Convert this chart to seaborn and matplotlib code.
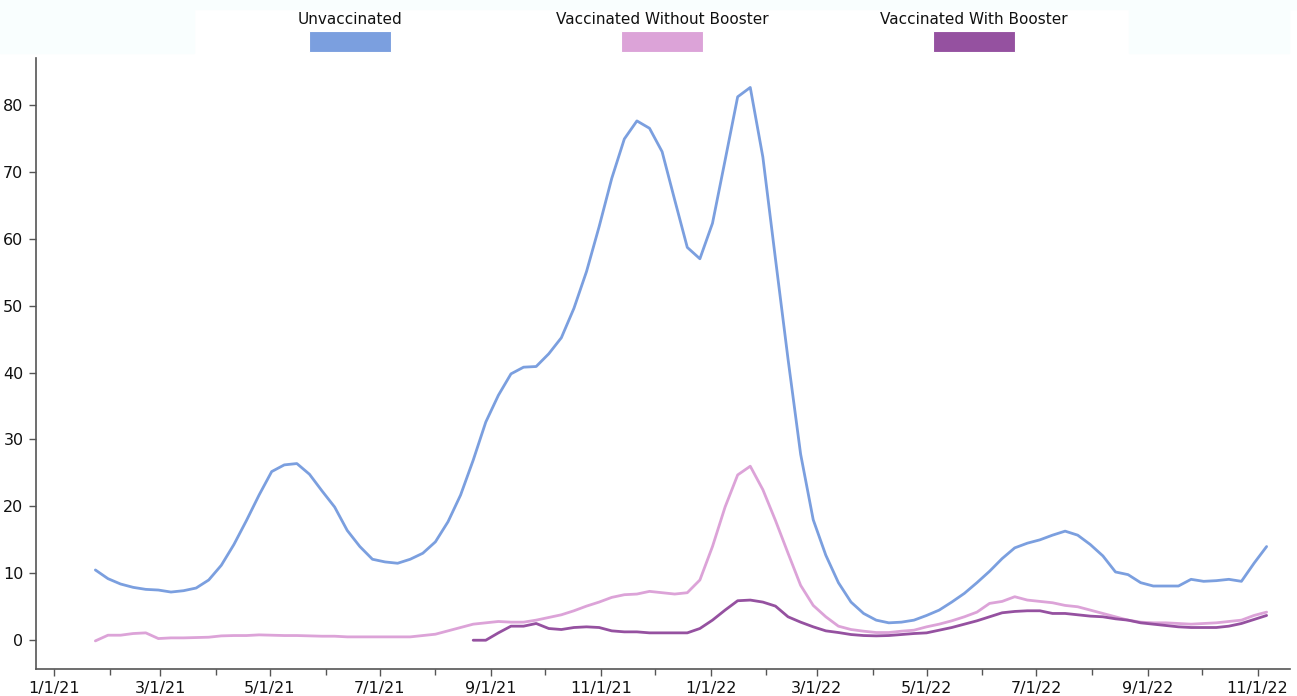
import numpy as np
import pandas as pd
import matplotlib
matplotlib.use('Agg')
import matplotlib.pyplot as plt
import matplotlib.dates as mdates
from matplotlib.patches import Rectangle
import seaborn as sns

# weekly rates, one point per week starting 2021-01-24
start_date = '2021-01-24'
n_weeks = 94

unvaccinated = [
    10.5, 9.2, 8.4, 7.9, 7.6, 7.5, 7.2, 7.4, 7.8, 9.0,
    11.2, 14.3, 17.9, 21.7, 25.2, 26.2, 26.4, 24.8, 22.3, 19.9,
    16.4, 14.0, 12.1, 11.7, 11.5, 12.1, 13.0, 14.7, 17.7, 21.7,
    26.9, 32.6, 36.6, 39.8, 40.8, 40.9, 42.8, 45.2, 49.6, 55.1,
    61.8, 69.0, 74.9, 77.6, 76.5, 73.0, 65.8, 58.7, 57.0, 62.3,
    71.7, 81.2, 82.6, 72.2, 57.0, 42.0, 27.8, 18.0, 12.7, 8.6,
    5.7, 4.0, 3.0, 2.6, 2.7, 3.0, 3.7, 4.5, 5.7, 7.0,
    8.6, 10.3, 12.2, 13.8, 14.5, 15.0, 15.7, 16.3, 15.7, 14.3,
    12.6, 10.2, 9.8, 8.6, 8.1, 8.1, 8.1, 9.1, 8.8, 8.9,
    9.1, 8.8, 11.5, 14.0,
]

no_booster = [
    -0.1, 0.75, 0.75, 1.0, 1.1, 0.25, 0.35, 0.35, 0.4, 0.45,
    0.65, 0.7, 0.7, 0.8, 0.75, 0.7, 0.7, 0.65, 0.6, 0.6,
    0.5, 0.5, 0.5, 0.5, 0.5, 0.5, 0.7, 0.9, 1.4, 1.9,
    2.4, 2.6, 2.8, 2.7, 2.7, 3.0, 3.4, 3.8, 4.4, 5.1,
    5.7, 6.4, 6.8, 6.9, 7.3, 7.1, 6.9, 7.1, 9.0, 14.0,
    19.9, 24.7, 26.0, 22.5, 17.9, 13.0, 8.2, 5.2, 3.5, 2.1,
    1.6, 1.35, 1.15, 1.15, 1.35, 1.5, 2.0, 2.4, 2.9, 3.5,
    4.2, 5.5, 5.8, 6.5, 6.0, 5.8, 5.6, 5.2, 5.0, 4.5,
    4.0, 3.5, 3.0, 2.7, 2.6, 2.6, 2.5, 2.4, 2.5, 2.6,
    2.8, 3.0, 3.7, 4.2,
]

# booster series only begins in late August 2021
with_booster = [np.nan] * 30 + [
    0.0, 0.0, 1.1, 2.1, 2.1, 2.5, 1.75, 1.6, 1.9, 2.0,
    1.9, 1.4, 1.25, 1.25, 1.1, 1.1, 1.1, 1.1, 1.75, 3.0,
    4.5, 5.9, 6.0, 5.7, 5.1, 3.5, 2.7, 2.0, 1.4, 1.15,
    0.85, 0.7, 0.65, 0.7, 0.85, 1.0, 1.1, 1.5, 1.9, 2.4,
    2.9, 3.5, 4.1, 4.3, 4.4, 4.4, 4.0, 4.0, 3.8, 3.6,
    3.5, 3.2, 3.0, 2.6, 2.4, 2.2, 2.0, 1.9, 1.9, 1.9,
    2.1, 2.5, 3.1, 3.7,
]

series_names = ['Unvaccinated', 'Vaccinated Without Booster', 'Vaccinated With Booster']
colors = ['#7b9fdf', '#dca3d8', '#9551a0']

dates = pd.date_range(start_date, periods=n_weeks, freq='7D')
df = pd.DataFrame({
    'date': dates,
    series_names[0]: unvaccinated,
    series_names[1]: no_booster,
    series_names[2]: with_booster,
})
long_df = df.melt(id_vars='date', var_name='group', value_name='rate')

sns.set_style('white')
plt.rcParams['font.family'] = ['DejaVu Sans']

fig = plt.figure(figsize=(12.97, 6.96), dpi=100)

# faint tinted panels behind the header (as in the source screenshot)
pale = '#f9fefe'
fig.add_artist(Rectangle((0, 1 - 9 / 696), 1, 9 / 696, transform=fig.transFigure,
                         color=pale, zorder=0))
fig.add_artist(Rectangle((0, 1 - 53 / 696), 194 / 1297, 53 / 696, transform=fig.transFigure,
                         color=pale, zorder=0))
fig.add_artist(Rectangle((1129 / 1297, 1 - 53 / 696), 160 / 1297, 53 / 696,
                         transform=fig.transFigure, color=pale, zorder=0))

ax = fig.add_axes([36 / 1297, 1 - 669 / 696, (1290 - 36) / 1297, (669 - 58) / 696])
ax.patch.set_alpha(0)

sns.lineplot(data=long_df, x='date', y='rate', hue='group', hue_order=series_names,
             palette=colors, linewidth=2.0, legend=False, ax=ax)

ax.set_xlim(pd.Timestamp('2020-12-22'), pd.Timestamp('2022-11-19'))
ax.set_ylim(-4.3, 87)
ax.set_yticks(range(0, 81, 10))
ax.set_xlabel('')
ax.set_ylabel('')

ax.xaxis.set_major_locator(mdates.MonthLocator(bymonth=[1, 3, 5, 7, 9, 11]))
ax.xaxis.set_minor_locator(mdates.MonthLocator(bymonth=[2, 4, 6, 8, 10, 12]))


def date_label(v, pos):
    d = mdates.num2date(v)
    # wide glyph spacing like the source font
    return ' '.join([str(d.month), '/', str(d.day), '/', d.strftime('%y')]).replace(' / ', '/')


ax.xaxis.set_major_formatter(plt.FuncFormatter(
    lambda v, pos: '{}/{}/{}'.format(mdates.num2date(v).month, mdates.num2date(v).day,
                                     mdates.num2date(v).strftime('%y'))))

for s in ['top', 'right']:
    ax.spines[s].set_visible(False)
for s in ['left', 'bottom']:
    ax.spines[s].set_color('#555555')
    ax.spines[s].set_linewidth(1.2)

ax.tick_params(axis='both', which='major', direction='out', length=5, width=1,
               color='#555555', labelsize=11.5, labelcolor='#111111', pad=4)
ax.tick_params(axis='x', which='minor', direction='out', length=4, width=1, color='#555555')
ax.tick_params(axis='y', left=True)
ax.tick_params(axis='x', bottom=True)
ax.tick_params(axis='x', which='minor', bottom=True)

# header legend: label above a colour swatch
centers = [350, 662, 974]
for name, col, cx in zip(series_names, colors, centers):
    fig.text(cx / 1297, 1 - 20 / 696, name, ha='center', va='center',
             fontsize=11, color='#111111')
    fig.add_artist(Rectangle(((cx - 41) / 1297, 1 - 52 / 696), 82 / 1297, 21 / 696,
                             transform=fig.transFigure, facecolor=col,
                             edgecolor='white', linewidth=0.8))

fig.savefig('out.png', dpi=100)
